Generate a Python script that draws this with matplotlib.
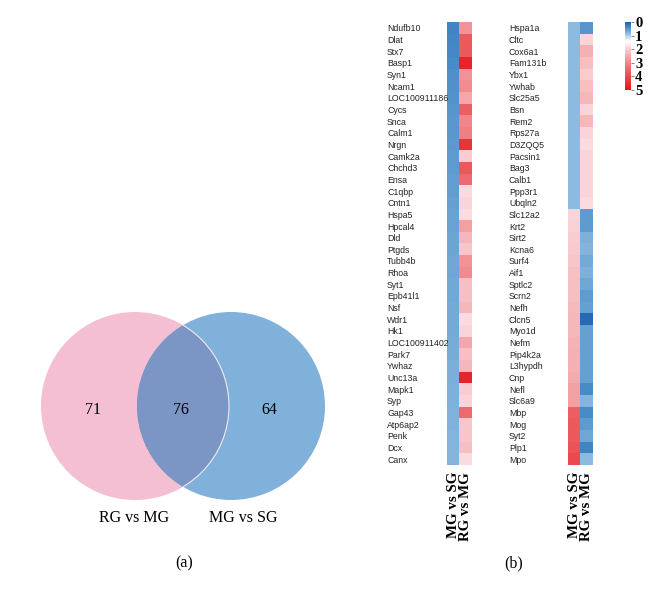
import numpy as np
import matplotlib
matplotlib.use('Agg')
import matplotlib.pyplot as plt
from matplotlib.colors import LinearSegmentedColormap, Normalize
from matplotlib.patches import Circle

# Venn counts
venn_counts = [71, 76, 64]
venn_sets = ['RG vs MG', 'MG vs SG']

# heatmap columns
columns = ['MG vs SG', 'RG vs MG']

genes_left = ['Ndufb10', 'Dlat', 'Stx7', 'Basp1', 'Syn1', 'Ncam1', 'LOC100911186',
              'Cycs', 'Snca', 'Calm1', 'Nrgn', 'Camk2a', 'Chchd3', 'Ensa', 'C1qbp',
              'Cntn1', 'Hspa5', 'Hpcal4', 'Dld', 'Ptgds', 'Tubb4b', 'Rhoa', 'Syt1',
              'Epb41l1', 'Nsf', 'Wdr1', 'Hk1', 'LOC100911402', 'Park7', 'Ywhaz',
              'Unc13a', 'Mapk1', 'Syp', 'Gap43', 'Atp6ap2', 'Penk', 'Dcx', 'Canx']
mg_sg_left = [0.35, 0.36, 0.38, 0.40, 0.44, 0.45, 0.47, 0.50, 0.51, 0.52, 0.54, 0.55,
              0.56, 0.57, 0.58, 0.60, 0.61, 0.62, 0.63, 0.64, 0.65, 0.66, 0.67, 0.68,
              0.69, 0.70, 0.70, 0.71, 0.72, 0.73, 0.74, 0.75, 0.76, 0.77, 0.78, 0.79,
              0.80, 0.80]
rg_mg_left = [2.8, 3.7, 3.7, 4.7, 2.8, 2.9, 2.5, 3.6, 3.0, 3.1, 4.4, 2.0, 3.7, 3.4,
              1.8, 1.9, 1.8, 2.6, 2.3, 2.1, 2.8, 2.9, 2.2, 2.2, 2.3, 1.8, 1.9, 2.5,
              2.2, 2.3, 4.7, 2.0, 1.9, 3.4, 2.1, 2.1, 2.2, 1.8]

genes_right = ['Hspa1a', 'Cltc', 'Cox6a1', 'Fam131b', 'Ybx1', 'Ywhab', 'Slc25a5', 'Bsn',
               'Rem2', 'Rps27a', 'D3ZQQ5', 'Pacsin1', 'Bag3', 'Calb1', 'Ppp3r1', 'Ubqln2',
               'Slc12a2', 'Krt2', 'Sirt2', 'Kcna6', 'Surf4', 'Aif1', 'Sptlc2', 'Scrn2',
               'Nefh', 'Clcn5', 'Myo1d', 'Nefm', 'Pip4k2a', 'L3hypdh', 'Cnp', 'Nefl',
               'Slc6a9', 'Mbp', 'Mog', 'Syt2', 'Plp1', 'Mpo']
mg_sg_right = [0.85, 0.85, 0.85, 0.85, 0.85, 0.85, 0.85, 0.85, 0.85, 0.85, 0.85, 0.85,
               0.85, 0.85, 0.85, 0.85, 1.9, 1.95, 2.0, 2.05, 2.1, 2.15, 2.2, 2.2,
               2.25, 2.3, 2.3, 2.35, 2.4, 2.4, 2.45, 2.6, 2.6, 3.6, 3.7, 3.7, 3.8, 4.0]
rg_mg_right = [0.5, 1.9, 2.4, 2.2, 2.0, 2.2, 2.3, 1.9, 2.3, 1.9, 1.8, 1.9, 1.9, 1.9,
               1.9, 1.8, 0.55, 0.55, 0.75, 0.8, 0.7, 0.75, 0.65, 0.55, 0.6, 0.1, 0.6,
               0.6, 0.6, 0.6, 0.6, 0.4, 0.8, 0.4, 0.55, 0.65, 0.35, 0.85]

cbar_ticks = [0, 1, 2, 3, 4, 5]

W, H = 656, 596
fig = plt.figure(figsize=(W / 100, H / 100), dpi=100)


def box(x0, y0, x1, y1):
    # pixel box (top-left origin) -> figure fraction
    return [x0 / W, 1 - y1 / H, (x1 - x0) / W, (y1 - y0) / H]


serif = 'Liberation Serif'
sans = 'Liberation Sans'

# colormap blue -> white -> red over 0..5
nodes = [(0.0, '#1a5fac'), (0.4 / 5, '#4a8cc7'), (0.85 / 5, '#8fbce0'),
         (1.4 / 5, '#ffffff'), (1.8 / 5, '#fbdde0'), (2.5 / 5, '#f4a8ab'),
         (3.5 / 5, '#ec6468'), (1.0, '#e8141b')]
cmap = LinearSegmentedColormap.from_list('bwr_custom', nodes)
norm = Normalize(0, 5)

# ---- (a) Venn diagram ----
axv = fig.add_axes([0, 0, 0.5, 1])
axv.set_xlim(0, W / 2)
axv.set_ylim(H, 0)
axv.axis('off')
r = 94
cl, cr = (135, 406), (231, 406)
pink = Circle(cl, r, facecolor='#f5bfd3', edgecolor='none')
blue = Circle(cr, r, facecolor='#7fb1da', edgecolor='none')
axv.add_patch(pink)
axv.add_patch(blue)
lens = Circle(cr, r, facecolor='#7b95c5', edgecolor='none')
axv.add_patch(lens)
lens.set_clip_path(pink)
rim = Circle(cl, r, facecolor='none', edgecolor='#f4e8f0', lw=0.8)
axv.add_patch(rim)
rim.set_clip_path(Circle(cr, r, transform=axv.transData))

for x, n in zip([93, 181, 269], venn_counts):
    axv.text(x, 410, str(n), ha='center', va='center', family=serif, fontsize=11.5)
for x, s in zip([134, 243], venn_sets):
    axv.text(x, 518, s, ha='center', va='center', family=serif, fontsize=11.5)
axv.text(184, 563, '(a)', ha='center', va='center', family=serif, fontsize=11.5)


# ---- (b) heatmaps ----
def heat(ax, genes, c1, c2, pad):
    data = np.column_stack([c1, c2])
    ax.imshow(data, cmap=cmap, norm=norm, aspect='auto', interpolation='nearest')
    ax.set_yticks(range(len(genes)))
    ax.set_yticklabels(genes, family=sans, fontsize=6.3, ha='left', color='#222222')
    ax.set_xticks(range(len(columns)))
    ax.set_xticklabels(columns, rotation=90, family=serif, fontweight='bold',
                       fontsize=10.7, va='top')
    ax.tick_params(axis='y', length=0, pad=pad)
    ax.tick_params(axis='x', length=0, pad=5)
    for s in ax.spines.values():
        s.set_visible(False)


axl = fig.add_axes(box(447, 22, 472, 465))
heat(axl, genes_left, mg_sg_left, rg_mg_left, 43.2)
axr = fig.add_axes(box(568, 22, 593, 465))
heat(axr, genes_right, mg_sg_right, rg_mg_right, 42.5)

fig.text(514 / W, 1 - 563 / H, '(b)', ha='center', va='center', family=serif, fontsize=11.5)

# colorbar
cax = fig.add_axes(box(625, 22, 631, 90))
sm = plt.cm.ScalarMappable(norm=norm, cmap=cmap)
cb = fig.colorbar(sm, cax=cax, ticks=cbar_ticks)
cb.outline.set_visible(False)
cax.invert_yaxis()
cax.tick_params(length=2, width=0.5, pad=1, color='#555555')
for t in cax.get_yticklabels():
    t.set_family(serif)
    t.set_fontweight('bold')
    t.set_fontsize(10.5)

fig.savefig('out.png', dpi=100)
